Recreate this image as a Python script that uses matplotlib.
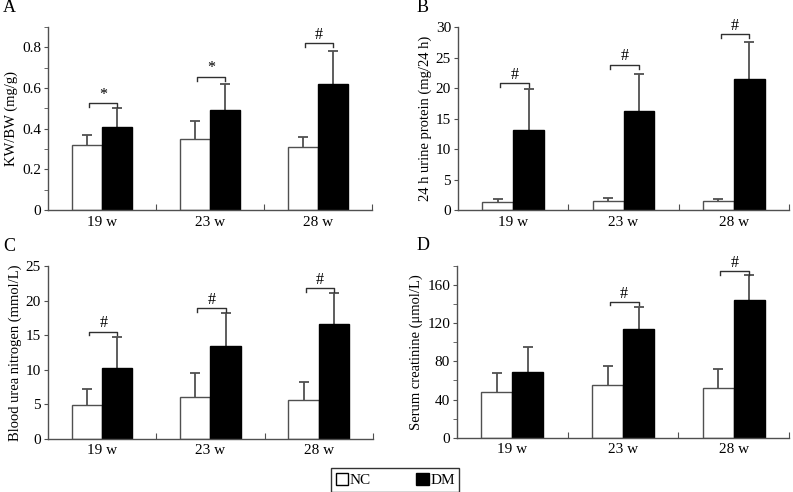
import numpy as np
import matplotlib
matplotlib.use('Agg')
import matplotlib.pyplot as plt
from matplotlib.patches import Patch

plt.rcParams['font.family'] = ['Liberation Serif', 'DejaVu Serif']

# Data
weeks = ['19 w', '23 w', '28 w']

kw_nc = [0.32, 0.35, 0.31]
kw_nc_sd = [0.05, 0.09, 0.05]
kw_dm = [0.41, 0.49, 0.62]
kw_dm_sd = [0.09, 0.13, 0.16]
kw_sig = ['*', '*', '#']
kw_sig_y = [0.525, 0.655, 0.82]

up_nc = [1.25, 1.45, 1.45]
up_nc_sd = [0.5, 0.5, 0.35]
up_dm = [13.1, 16.2, 21.5]
up_dm_sd = [6.7, 6.1, 6.1]
up_sig = ['#', '#', '#']
up_sig_y = [20.8, 23.8, 28.8]

bun_nc = [4.9, 6.0, 5.6]
bun_nc_sd = [2.3, 3.6, 2.6]
bun_dm = [10.3, 13.4, 16.6]
bun_dm_sd = [4.4, 4.8, 4.5]
bun_sig = ['#', '#', '#']
bun_sig_y = [15.5, 18.9, 21.8]

scr_nc = [48, 55, 52]
scr_nc_sd = [20, 20, 20]
scr_dm = [69, 114, 144]
scr_dm_sd = [26, 23, 26]
scr_sig = ['', '#', '#']
scr_sig_y = [None, 142, 174]

line_grey = '#505050'

fig = plt.figure(figsize=(7.93, 4.92), dpi=100)

panels = [
    ('A', [0.0605, 0.573, 0.4085, 0.372], kw_nc, kw_nc_sd, kw_dm, kw_dm_sd, kw_sig, kw_sig_y,
     'KW/BW (mg/g)', 0.9, np.arange(0, 0.81, 0.2), 0.1, ['0', '0.2', '0.4', '0.6', '0.8']),
    ('B', [0.5776, 0.573, 0.4174, 0.372], up_nc, up_nc_sd, up_dm, up_dm_sd, up_sig, up_sig_y,
     '24 h urine protein (mg/24 h)', 30, np.arange(0, 31, 5), None, None),
    ('C', [0.0605, 0.108, 0.4098, 0.351], bun_nc, bun_nc_sd, bun_dm, bun_dm_sd, bun_sig, bun_sig_y,
     'Blood urea nitrogen (mmol/L)', 25, np.arange(0, 26, 5), None, None),
    ('D', [0.5763, 0.110, 0.4187, 0.350], scr_nc, scr_nc_sd, scr_dm, scr_dm_sd, scr_sig, scr_sig_y,
     'Serum creatinine (\u03bcmol/L)', 180, np.arange(0, 161, 40), 20, None),
]

letter_x = {'A': 0.004, 'B': 0.525, 'C': 0.004, 'D': 0.525}

w = 0.28
for letter, rect, nc, nc_sd, dm, dm_sd, sig, sig_y, ylab, ymax, yt, minor, ytl in panels:
    ax = fig.add_axes(rect)
    x = np.arange(len(weeks)) + 0.5
    ax.bar(x - w / 2, nc, w, color='white', edgecolor=line_grey, linewidth=1.0, zorder=2)
    ax.bar(x + w / 2, dm, w, color='black', edgecolor='black', linewidth=1.0, zorder=2)

    # upper error bars only
    for xs, vals, sds in [(x - w / 2, nc, nc_sd), (x + w / 2, dm, dm_sd)]:
        tops = np.array(vals) + np.array(sds)
        ax.vlines(xs, vals, tops, color=line_grey, linewidth=1.3, zorder=1)
        ax.plot(xs, tops, linestyle='none', marker='_', markersize=7,
                markeredgewidth=1.3, color=line_grey, zorder=1)

    # significance brackets
    for xi, s, sy in zip(x, sig, sig_y):
        if not s:
            continue
        tick = ymax * 0.02
        ax.plot([xi - w / 2 + 0.02, xi - w / 2 + 0.02, xi + w / 2, xi + w / 2],
                [sy - tick, sy, sy, sy - tick], color='#303030', linewidth=1.0)
        ax.text(xi + 0.01, sy + ymax * 0.003, s, ha='center', va='bottom', fontsize=11.5)

    ax.set_xlim(0, 3)
    ax.set_ylim(0, ymax)
    ax.set_xticks([1, 2, 3])
    ax.set_xticklabels([])
    ax.tick_params(axis='x', direction='in', length=4, color=line_grey)
    for xi, lab in zip(x, weeks):
        ax.text(xi, -ymax * 0.03, lab, ha='center', va='top', fontsize=11)
    ax.set_yticks(yt)
    if ytl is not None:
        ax.set_yticklabels(ytl)
    if minor:
        ax.set_yticks(np.arange(0, ymax + minor / 2, minor), minor=True)
        ax.tick_params(axis='y', which='minor', direction='out', length=3, color=line_grey)
    ax.tick_params(axis='y', which='major', direction='out', length=3, color=line_grey,
                   labelsize=11, pad=2)
    ax.spines['top'].set_visible(False)
    ax.spines['right'].set_visible(False)
    ax.spines['left'].set_color(line_grey)
    ax.spines['bottom'].set_color(line_grey)
    ax.spines['left'].set_linewidth(1.0)
    ax.spines['bottom'].set_linewidth(1.0)
    ax.set_ylabel(ylab, fontsize=10.5, labelpad=3)
    ax.text(letter_x[letter], rect[1] + rect[3] + 0.023, letter,
            transform=fig.transFigure, fontsize=13, ha='left', va='bottom')

handles = [Patch(facecolor='white', edgecolor='black', linewidth=1.0),
           Patch(facecolor='black', edgecolor='black', linewidth=1.0)]
leg = fig.legend(handles, ['NC', 'DM'], loc='center', bbox_to_anchor=(0.4985, 0.0245),
                 ncol=2, frameon=True, fancybox=False, edgecolor='black', fontsize=11,
                 handlelength=0.8, handleheight=0.8, handletextpad=0.1, columnspacing=3.0,
                 borderpad=0.3, borderaxespad=0)
leg.get_frame().set_linewidth(1.0)

fig.savefig('out.png', dpi=100)
